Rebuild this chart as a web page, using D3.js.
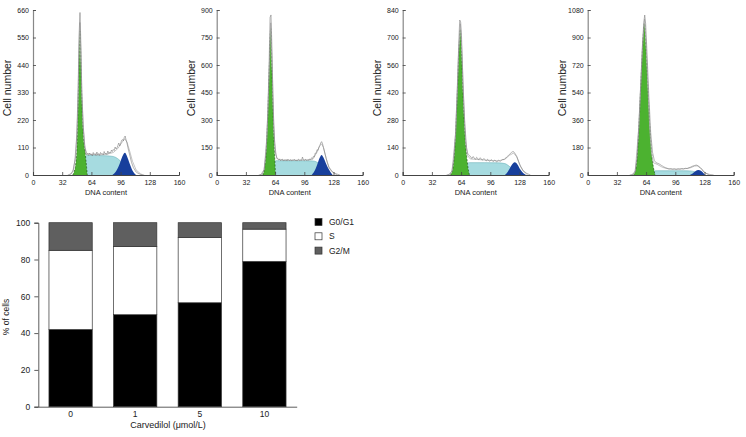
<!DOCTYPE html>
<html><head><meta charset="utf-8">
<script src="https://cdn.jsdelivr.net/npm/d3@7"></script>
<style>body{margin:0;background:#fff}svg{display:block}text{font-family:"Liberation Sans",Arial,sans-serif}</style>
</head><body><svg id="c" width="746" height="437"></svg>
<script>
// ---------- Histogram data (DNA content, cell count) ----------
const histYMax = [660, 900, 840, 1080];
const histXTicks = [0, 32, 64, 96, 128, 160];
const g1Curves = [
  [[43.5,0],[45,12],[47,50],[48.5,140],[49.5,290],[50.5,450],[51.5,575],[52.5,450],[53.5,300],[54.5,200],[56,120],[57,95],[58,60],[59.5,0]],
  [[50.4,0],[52,25],[54,110],[56,320],[57.5,560],[59.2,800],[60.5,580],[61.5,380],[62.5,220],[63.5,110],[64.4,0]],
  [[52.2,0],[54,15],[56,70],[58,210],[60,430],[61.5,620],[63.2,742],[64.5,620],[66,420],[68,220],[70,100],[71.5,40],[73.2,0]],
  [[50.1,0],[52,20],[54,100],[56,300],[58,560],[60,820],[62.2,993],[64,820],[66,560],[68,320],[70,150],[72,50],[74,0]]
];
const sCurves = [
  [[50,0],[53,30],[56,65],[59,78],[70,78],[80,77],[88,74],[94,62],[100,38],[106,12],[110,0]],
  [[56,0],[59,30],[62,65],[65,78],[80,78],[95,78],[105,77],[110,70],[115,50],[120,25],[126,0]],
  [[62,0],[66,20],[70,55],[73,63],[90,63],[105,62],[112,58],[118,40],[124,18],[130,0]],
  [[64,0],[68,15],[72,26],[76,28],[90,28],[105,28],[112,27],[118,20],[124,8],[128,0]]
];
const g2Curves = [
  [[87,0],[91,15],[95,45],[98,75],[100.8,89],[103,75],[106,45],[109,18],[113,0]],
  [[104,0],[107,20],[110,55],[113,95],[115,109],[117,95],[120,60],[123,30],[127,0]],
  [[112,0],[115,15],[118,40],[121,60],[122.8,65],[125,58],[128,35],[131,15],[135,0]],
  [[112,0],[115,10],[118,25],[121.5,33],[124,28],[127,12],[129,0]]
];
const rawCurves = [
  [[38,0],[42,5],[44,20],[46,60],[48,160],[49.5,350],[50.5,560],[51.5,650],[52.5,520],[53.5,330],[55,200],[56.5,120],[58,88],[59,80],[60,86],[61,78],[62,88],[63,80],[64,84],[65,76],[66,90],[67,82],[68,86],[69,78],[70,92],[71,80],[72,86],[73,78],[74,90],[75,84],[76,86],[77,80],[78,94],[79,84],[80,88],[81,82],[82,96],[83,86],[84,92],[85,88],[86,100],[87,94],[88,102],[89,98],[90,112],[91,104],[92,108],[93,118],[94,128],[95,116],[96,124],[97,138],[98,142],[99,136],[100,150],[101,156],[102,140],[103,128],[104,110],[106,80],[108,50],[110,30],[113,12],[116,5],[120,0]],
  [[46,0],[50,5],[52,30],[54,120],[56,340],[57.5,620],[58.5,860],[59.5,873],[60.5,700],[61.5,450],[62.5,280],[63.5,180],[65,110],[66,92],[67,86],[68,82],[69,88],[70,78],[71,84],[72,86],[73,76],[74,82],[75,78],[76,84],[77,76],[78,86],[79,80],[80,78],[81,84],[82,76],[83,82],[84,80],[85,86],[86,78],[87,82],[88,76],[89,84],[90,86],[91,78],[92,82],[93,80],[94,98],[95,82],[96,78],[97,86],[98,82],[99,78],[100,84],[101,80],[102,88],[103,84],[104,94],[105,90],[106,102],[107,98],[108,120],[109,118],[110,138],[111,134],[112,152],[113,160],[114,175],[115,182],[116,170],[117,150],[119,110],[121,70],[123,40],[126,20],[130,8],[135,0]],
  [[48,0],[52,5],[54,20],[56,80],[58,220],[60,450],[61.5,680],[62.5,789],[63.5,780],[64.5,700],[66,470],[68,260],[70,140],[71,112],[72,104],[73,98],[74,96],[75,88],[76,84],[77,94],[78,90],[79,82],[80,80],[81,90],[82,86],[83,78],[84,80],[85,88],[86,82],[87,76],[88,78],[89,84],[90,78],[91,74],[92,72],[93,80],[94,76],[95,70],[96,72],[97,78],[98,74],[99,68],[100,72],[101,76],[102,72],[103,66],[104,70],[105,76],[106,72],[107,70],[108,74],[109,78],[110,80],[111,78],[112,84],[113,86],[114,92],[115,96],[116,100],[117,104],[118,110],[119,114],[120,118],[121.5,119],[123,110],[125,95],[127,70],[129,45],[132,22],[136,8],[140,0]],
  [[46,0],[50,5],[52,25],[54,110],[56,320],[58,580],[60,850],[61.5,1000],[62.5,1047],[63.5,990],[65,800],[67,520],[69,280],[71,150],[73,95],[75,80],[77,76],[79,70],[81,62],[83,55],[85,48],[87,44],[89,40],[91,42],[93,38],[95,40],[97,36],[99,40],[101,38],[103,42],[105,40],[107,44],[109,42],[111,48],[113,52],[115,58],[117,62],[119,65],[121,60],[123,50],[125,38],[127,22],[130,10],[134,3],[138,0]]
];
const fitCurves = [
  [[40,0],[44,15],[47,80],[49,250],[50.5,520],[51.5,610],[52.5,480],[53.5,330],[55,190],[57,110],[59,86],[70,80],[80,82],[88,90],[93,106],[97,128],[100.5,145],[103,132],[106,95],[109,55],[113,20],[118,4],[122,0]],
  [[48,0],[52,30],[55,200],[57.5,560],[59.2,830],[61,560],[62.5,280],[64,130],[66,90],[70,82],[90,80],[105,84],[110,125],[113,160],[115,170],[117,150],[120,90],[123,45],[127,15],[132,0]],
  [[50,0],[54,18],[58,210],[61,600],[63.2,770],[65,620],[67,360],[69,170],[71,100],[74,82],[90,76],[105,72],[112,80],[117,100],[121.5,112],[125,92],[128,55],[132,20],[137,0]],
  [[48,0],[52,22],[56,310],[60,840],[62.3,1020],[64,860],[66,580],[68,300],[70,140],[72,80],[76,70],[82,50],[90,38],[105,40],[112,46],[117,58],[120,60],[124,45],[128,18],[133,0]]
];

// ---------- Bar chart data ----------
const doses = ["0", "1", "5", "10"];
const phases = ["G0/G1", "S", "G2/M"];
const g0g1 = [42, 50, 56.5, 79];
const sPhase = [43, 37, 35.5, 17.5];
const g2m = [15, 13, 8, 3.5];
const barYTicks = [0, 20, 40, 60, 80, 100];

const svg = d3.select("#c");
const FONT = "Liberation Sans, Arial, sans-serif";

// ---------- Histograms ----------
const panelX = [33, 216.7, 402.7, 587.7];
const panelW = 146;
const plotTop = 10, plotBottom = 175;

histYMax.forEach((ymax, i) => {
  const g = svg.append("g");
  const x = d3.scaleLinear().domain([0, 160]).range([panelX[i], panelX[i] + panelW]);
  const y = d3.scaleLinear().domain([0, ymax]).range([plotBottom, plotTop]);
  const area = d3.area().x(d => x(d[0])).y0(y(0)).y1(d => y(d[1])).curve(d3.curveMonotoneX);
  const line = d3.line().x(d => x(d[0])).y(d => y(d[1])).curve(d3.curveMonotoneX);
  const lineL = d3.line().x(d => x(d[0])).y(d => y(d[1]));

  g.append("path").attr("d", area(sCurves[i])).attr("fill", "#a6dbe0");
  g.append("path").attr("d", line(sCurves[i])).attr("fill", "none").attr("stroke", "#5aa9b0").attr("stroke-width", 0.5);
  g.append("path").attr("d", area(g1Curves[i])).attr("fill", "#4cb230");
  g.append("path").attr("d", line(g1Curves[i])).attr("fill", "none").attr("stroke", "#1f4a16").attr("stroke-width", 0.6).attr("stroke-dasharray", "2,1.5");
  g.append("path").attr("d", area(g2Curves[i])).attr("fill", "#173f9c");
  g.append("path").attr("d", lineL(fitCurves[i])).attr("fill", "none").attr("stroke", "#b5b5b5").attr("stroke-width", 0.8);
  g.append("path").attr("d", lineL(rawCurves[i])).attr("fill", "none").attr("stroke", "#808080").attr("stroke-width", 0.6);

  const yTicks = d3.range(0, 7).map(k => ymax * k / 6);
  const ya = d3.axisLeft(y).tickValues(yTicks).tickSize(-3).tickPadding(4).tickFormat(d3.format("d"));
  const yg = g.append("g").attr("transform", `translate(${panelX[i]},0)`).call(ya);
  const xa = d3.axisBottom(x).tickValues(histXTicks).tickSize(-3).tickPadding(4);
  const xg = g.append("g").attr("transform", `translate(0,${plotBottom})`).call(xa);
  yg.select(".domain").attr("stroke", "#888").attr("stroke-width", 1.2);
  xg.select(".domain").attr("stroke", "#444").attr("stroke-width", 1);
  [yg, xg].forEach(a => {
    a.selectAll(".tick line").attr("stroke", "#444").attr("stroke-width", 0.8);
    a.selectAll("text").attr("font-size", 7).attr("fill", "#222").style("font-family", FONT);
  });
  xg.selectAll("text").attr("dy", "0.8em");
  g.append("text").attr("x", (x(0) + x(160)) / 2).attr("y", 195)
    .attr("text-anchor", "middle").attr("font-size", 7.5).attr("fill", "#222").text("DNA content");
  g.append("text").attr("transform", `translate(${panelX[i] - 22},88) rotate(-90)`)
    .attr("text-anchor", "middle").attr("font-size", 10.5).attr("fill", "#222").text("Cell number");
});

// ---------- Stacked bar chart ----------
const bx = d3.scaleBand().domain(doses).range([38.3, 296.7]).paddingInner(0.33).paddingOuter(0.165);
const by = d3.scaleLinear().domain([0, 100]).range([406.7, 222.7]);
const rows = doses.map((d, i) => ({dose: d, "G0/G1": g0g1[i], "S": sPhase[i], "G2/M": g2m[i]}));
const stack = d3.stack().keys(phases)(rows);
const colors = {"G0/G1": "#000000", "S": "#ffffff", "G2/M": "#5f5f5f"};
const bg = svg.append("g");
stack.forEach(layer => {
  bg.selectAll(null).data(layer).enter().append("rect")
    .attr("x", d => bx(d.data.dose)).attr("width", bx.bandwidth())
    .attr("y", d => by(d[1])).attr("height", d => by(d[0]) - by(d[1]))
    .attr("fill", colors[layer.key]).attr("stroke", "#333").attr("stroke-width", 0.7);
});
const bya = bg.append("g").attr("transform", "translate(38.3,0)")
  .call(d3.axisLeft(by).tickValues(barYTicks).tickSize(4).tickPadding(4));
const bxa = bg.append("g").attr("transform", "translate(0,406.7)")
  .call(d3.axisBottom(bx).tickSize(0).tickPadding(4));
[bya, bxa].forEach(a => {
  a.select(".domain").attr("stroke", "#333").attr("stroke-width", 0.8);
  a.selectAll(".tick line").attr("stroke", "#333").attr("stroke-width", 0.8);
  a.selectAll("text").attr("font-size", 8.5).attr("fill", "#222").style("font-family", FONT);
});
bg.append("text").attr("transform", "translate(9,317) rotate(-90)").attr("text-anchor", "middle")
  .attr("font-size", 8.5).attr("fill", "#222").text("% of cells");
bg.append("text").attr("x", 168).attr("y", 428).attr("text-anchor", "middle")
  .attr("font-size", 9).attr("fill", "#222").text("Carvedilol (μmol/L)");

const lg = svg.append("g");
phases.forEach((p, k) => {
  const yy = 222 + k * 14.3;
  lg.append("rect").attr("x", 315).attr("y", yy - 3.5).attr("width", 7).attr("height", 7)
    .attr("fill", colors[p]).attr("stroke", "#333").attr("stroke-width", 0.7);
  lg.append("text").attr("x", 329).attr("y", yy).attr("dy", "0.35em")
    .attr("font-size", 8.5).attr("fill", "#222").text(p);
});
</script></body></html>
